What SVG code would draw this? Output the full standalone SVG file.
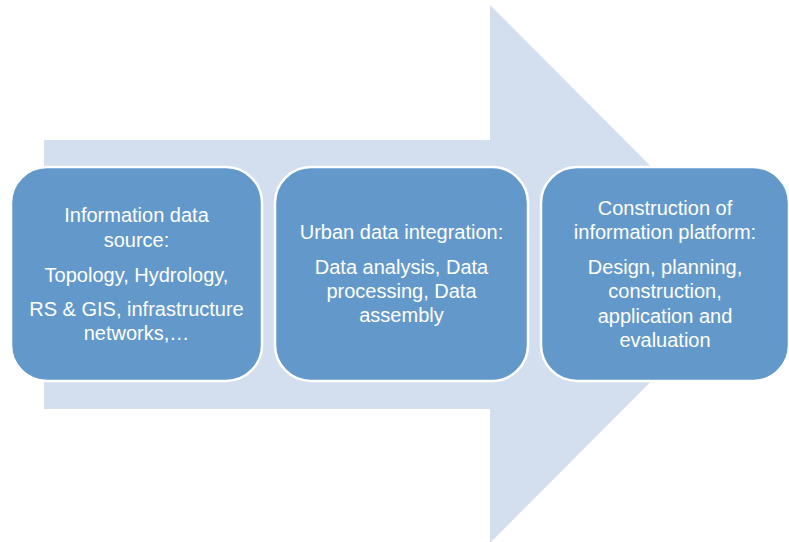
<svg xmlns="http://www.w3.org/2000/svg" width="789" height="542" viewBox="0 0 789 542">
  <style>
    .band { fill: #d3dfee; }
    .step { fill: #6399ca; stroke: #ffffff; stroke-width: 2.5; }
    .label { fill: #ffffff; font-family: "Liberation Sans", Arial, sans-serif; font-size: 20px; text-anchor: middle; }
  </style>
  <rect width="789" height="542" fill="#ffffff"/>

  <!-- large background arrow -->
  <g id="connectors">
    <polygon class="band" points="44,140 490,140 490,5 758,274 490,543 490,409 44,409"/>
  </g>

  <g id="step-source">
    <rect class="step" x="11" y="167" width="251" height="214" rx="36" ry="36"/>
    <text class="label" x="136.5" y="222">Information data</text>
    <text class="label" x="136.5" y="247">source:</text>
    <text class="label" x="136.5" y="282">Topology, Hydrology,</text>
    <text class="label" x="136.5" y="316">RS &amp; GIS, infrastructure</text>
    <text class="label" x="136.5" y="340">networks,…</text>
  </g>

  <g id="step-integration">
    <rect class="step" x="275" y="167" width="253" height="214" rx="36" ry="36"/>
    <text class="label" x="401.5" y="239">Urban data integration:</text>
    <text class="label" x="401.5" y="274">Data analysis, Data</text>
    <text class="label" x="401.5" y="298">processing, Data</text>
    <text class="label" x="401.5" y="322">assembly</text>
  </g>

  <g id="step-platform">
    <rect class="step" x="541" y="167" width="248" height="214" rx="36" ry="36"/>
    <text class="label" x="665" y="215">Construction of</text>
    <text class="label" x="665" y="239">information platform:</text>
    <text class="label" x="665" y="274">Design, planning,</text>
    <text class="label" x="665" y="298">construction,</text>
    <text class="label" x="665" y="323">application and</text>
    <text class="label" x="665" y="347">evaluation</text>
  </g>
</svg>
